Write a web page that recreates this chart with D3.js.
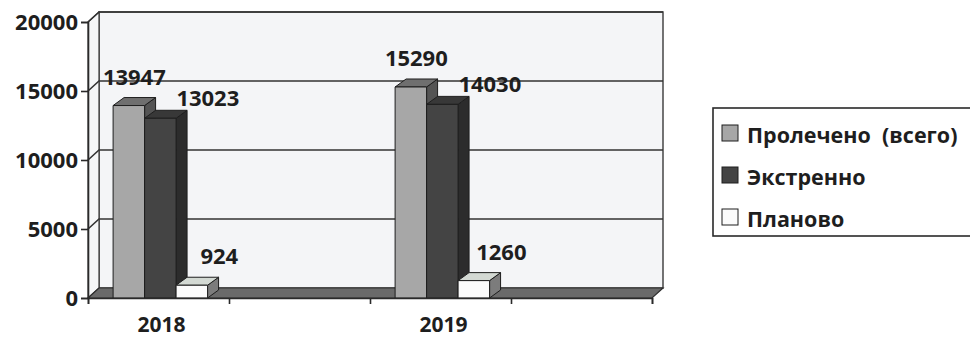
<!DOCTYPE html>
<html>
<head>
<meta charset="utf-8">
<script src="https://cdn.jsdelivr.net/npm/d3@7"></script>
<style>
  html, body { margin: 0; padding: 0; background: #ffffff; }
  svg { display: block; }
  text { font-family: "Open Sans", "DejaVu Sans", sans-serif; font-weight: 700; fill: #1e1e1e; }
</style>
</head>
<body>
<svg id="chart" width="970" height="338"></svg>
<script>
// Data
const categories = ["2018", "2019"];
const seriesNames = ["Пролечено  (всего)", "Экстренно", "Планово"];
const totalTreated = [13947, 15290];
const emergency = [13023, 14030];
const planned = [924, 1260];
const yTicks = [0, 5000, 10000, 15000, 20000];

// Styling / layout
const seriesValues = [totalTreated, emergency, planned];
const faceFill = ["#a7a7a7", "#444444", "#fbfbfb"];
const topFill  = ["#6f6f6f", "#383838", "#d3d9d3"];
const sideFill = ["#545454", "#2c2c2c", "#7c7c7c"];
const labelDx = [0, 42, 22];
const labelDy = [-30, -21, -30];

const svg = d3.select("#chart");

const plotLeft = 88, plotRight = 652;
const wallDx = 11, wallDy = -10;   // depth of the back wall
const barDx = 11, barDy = -8;      // depth of each bar

const y = d3.scaleLinear().domain([0, 20000]).range([298, 22]);

// Four equal slots along the floor; the years sit in slots 0 and 2
const slotCount = 4;
const slots = d3.scaleBand().domain(d3.range(slotCount)).range([plotLeft, plotRight]).paddingInner(0).paddingOuter(0);
const slotOf = i => i * 2;
const step = slots.bandwidth();
const inner = d3.scaleBand().domain(d3.range(seriesNames.length))
  .range([step * 0.178, step * 0.178 + step * 0.67]).paddingInner(0);

const y0 = y(0), yTop = y(20000);

// Back wall
svg.append("polygon")
  .attr("points", [[plotLeft + wallDx, yTop + wallDy], [plotRight + wallDx, yTop + wallDy],
                   [plotRight + wallDx, y0 + wallDy], [plotLeft + wallDx, y0 + wallDy]].join(" "))
  .attr("fill", "#f4f5f7").attr("stroke", "#3a3a3a").attr("stroke-width", 1.4);

// Side wall
svg.append("polygon")
  .attr("points", [[plotLeft, yTop], [plotLeft + wallDx, yTop + wallDy],
                   [plotLeft + wallDx, y0 + wallDy], [plotLeft, y0]].join(" "))
  .attr("fill", "#f6f7f8").attr("stroke", "#3a3a3a").attr("stroke-width", 1.2);

// Gridlines on side and back walls
const grid = svg.append("g").attr("stroke", "#333").attr("stroke-width", 1.6).attr("fill", "none");
yTicks.filter(t => t > 0).forEach(t => {
  grid.append("polyline")
    .attr("points", [[plotLeft, y(t)], [plotLeft + wallDx, y(t) + wallDy], [plotRight + wallDx, y(t) + wallDy]].join(" "));
});

// Floor
svg.append("polygon")
  .attr("points", [[plotLeft, y0], [plotRight, y0], [plotRight + wallDx, y0 + wallDy], [plotLeft + wallDx, y0 + wallDy]].join(" "))
  .attr("fill", "#6a6a6a").attr("stroke", "#2e2e2e").attr("stroke-width", 1.2);

// Bars
const bars = svg.append("g").attr("stroke", "#1e1e1e").attr("stroke-width", 1).attr("stroke-linejoin", "round");
const barW = inner.bandwidth();
categories.forEach((cat, ci) => {
  seriesValues.forEach((vals, si) => {
    const x = slots(slotOf(ci)) + inner(si);
    const yt = y(vals[ci]);
    bars.append("polygon")
      .attr("points", [[x + barW, yt], [x + barW + barDx, yt + barDy], [x + barW + barDx, y0 + barDy], [x + barW, y0]].join(" "))
      .attr("fill", sideFill[si]);
    bars.append("polygon")
      .attr("points", [[x, yt], [x + barW, yt], [x + barW + barDx, yt + barDy], [x + barDx, yt + barDy]].join(" "))
      .attr("fill", topFill[si]);
    bars.append("rect")
      .attr("x", x).attr("y", yt).attr("width", barW).attr("height", y0 - yt)
      .attr("fill", faceFill[si]);
  });
});

// Value labels
const labels = svg.append("g").attr("font-size", 22);
categories.forEach((cat, ci) => {
  seriesValues.forEach((vals, si) => {
    const x = slots(slotOf(ci)) + inner(si);
    labels.append("text")
      .attr("x", x + barW / 2 + barDx / 2 + labelDx[si])
      .attr("y", y(vals[ci]) + labelDy[si])
      .attr("text-anchor", "middle")
      .attr("dominant-baseline", "central")
      .text(vals[ci]);
  });
});

// Value axis
const yAxis = svg.append("g")
  .attr("transform", `translate(${plotLeft},0)`)
  .call(d3.axisLeft(y).tickValues(yTicks).tickSize(7).tickPadding(3).tickFormat(d3.format("d")));
yAxis.select(".domain").attr("stroke", "#2a2a2a").attr("stroke-width", 1.6);
yAxis.selectAll(".tick line").attr("stroke", "#2a2a2a").attr("stroke-width", 1.6);
yAxis.selectAll(".tick text").attr("font-size", 22).attr("font-family", null).attr("fill", "#1e1e1e");

// Category axis: boundary ticks along the front edge of the floor
const slotEdge = d3.scaleLinear().domain([0, slotCount]).range([plotLeft, plotRight]);
const xAxis = svg.append("g")
  .attr("transform", `translate(0,${y0})`)
  .call(d3.axisBottom(slotEdge).tickValues(d3.range(slotCount + 1)).tickSize(6).tickFormat(""));
xAxis.select(".domain").attr("stroke", "#2a2a2a").attr("stroke-width", 1.6);
xAxis.selectAll(".tick line").attr("stroke", "#2a2a2a").attr("stroke-width", 1.6);

svg.append("g").selectAll("text").data(categories).join("text")
  .attr("x", (d, i) => slots(slotOf(i)) + step / 2 + 3)
  .attr("y", y0 + 26)
  .attr("text-anchor", "middle")
  .attr("dominant-baseline", "central")
  .attr("font-size", 21)
  .text(d => d);

// Legend
const legend = svg.append("g").attr("transform", "translate(713,108)");
legend.append("rect").attr("x", 0).attr("y", 0).attr("width", 300).attr("height", 128)
  .attr("fill", "#ffffff").attr("stroke", "#2a2a2a").attr("stroke-width", 1.6);
seriesNames.forEach((name, i) => {
  const cy = 25 + i * 42;
  legend.append("rect").attr("x", 9).attr("y", cy - 8).attr("width", 16).attr("height", 16)
    .attr("fill", faceFill[i]).attr("stroke", "#1e1e1e").attr("stroke-width", 1);
  legend.append("text").attr("x", 34).attr("y", cy + 1).attr("dominant-baseline", "central")
    .attr("font-size", 21.5).style("white-space", "pre").text(name);
});
</script>
</body>
</html>
